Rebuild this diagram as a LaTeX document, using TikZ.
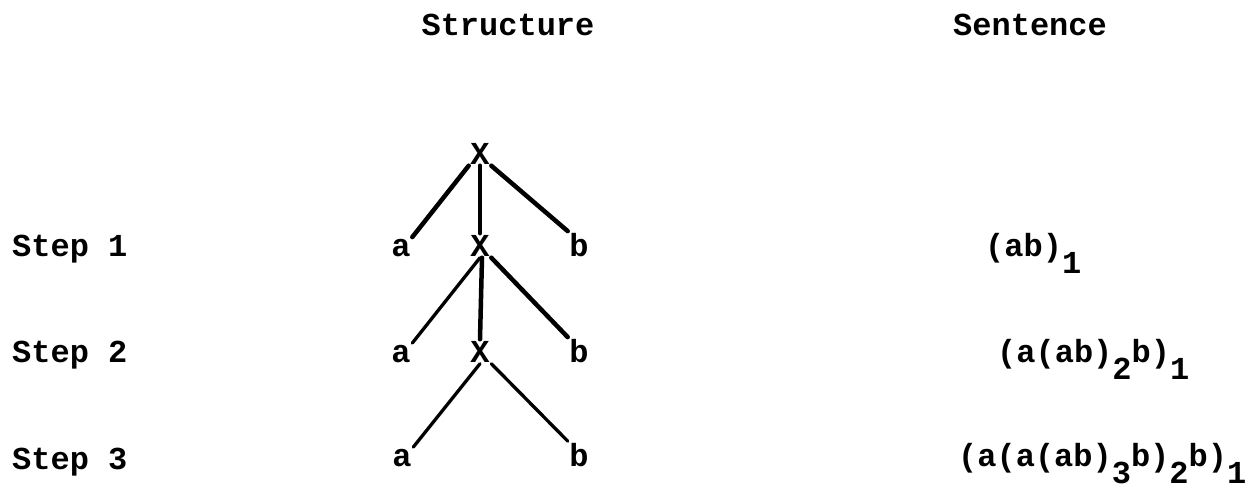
\documentclass[tikz,border=0pt]{standalone}
\usepackage{fontspec}
\setmainfont{Liberation Mono}
\newcommand{\lowr}[1]{\raisebox{-0.55em}{#1}}
\begin{document}
\begin{tikzpicture}[x=1pt,y=-1pt,
  lbl/.style={font=\fontsize{32}{36}\selectfont\bfseries, inner sep=0pt, anchor=base},
  tn/.style={font=\fontsize{32}{36}\selectfont\bfseries, inner sep=1.5pt, anchor=base},
  edge/.style={line width=4.5pt, line cap=round},
  thinedge/.style={line width=3.3pt, line cap=round}]
\useasboundingbox (0,0) rectangle (1259,496);
% headers
\node[lbl] (hs) at (508,35) {Structure};
\node[lbl, anchor=base west] (hn) at (953,35) {Sentence};
% step labels
\node[lbl, anchor=base west] (s1) at (12,256) {Step 1};
\node[lbl, anchor=base west] (s2) at (12,362) {Step 2};
\node[lbl, anchor=base west] (s3) at (12,469) {Step 3};
% tree
\node[tn] (x1) at (480,164) {X};
\node[tn] (a1) at (401,256) {a};
\node[tn] (x2) at (480,256) {X};
\node[tn] (b1) at (579,256) {b};
\node[tn] (a2) at (401,362) {a};
\node[tn] (x3) at (480,362) {X};
\node[tn] (b2) at (579,362) {b};
\node[tn] (a3) at (402,466) {a};
\node[tn] (b3) at (579,466) {b};
\draw[edge] (x1.south west) -- (a1.north east);
\draw[edge] (x1.south) -- (x2.north);
\draw[edge] (x1.south east) -- (b1.north west);
\draw[thinedge] (x2.south) -- (a2.north east);
\draw[edge] (x2.south) ++(2,0) -- (x3.north);
\draw[edge] (x2.south east) -- (b2.north west);
\draw[thinedge] (x3.south) -- (a3.north east);
\draw[thinedge] (x3.south east) -- (b3.north west);
% sentences
\node[lbl, anchor=base west] (t1) at (985,256) {(ab)\lowr{1}};
\node[lbl, anchor=base west] (t2) at (997,362) {(a(ab)\lowr{2}b)\lowr{1}};
\node[lbl, anchor=base west] (t3) at (958,466) {(a(a(ab)\lowr{3}b)\lowr{2}b)\lowr{1}};
\end{tikzpicture}
\end{document}
